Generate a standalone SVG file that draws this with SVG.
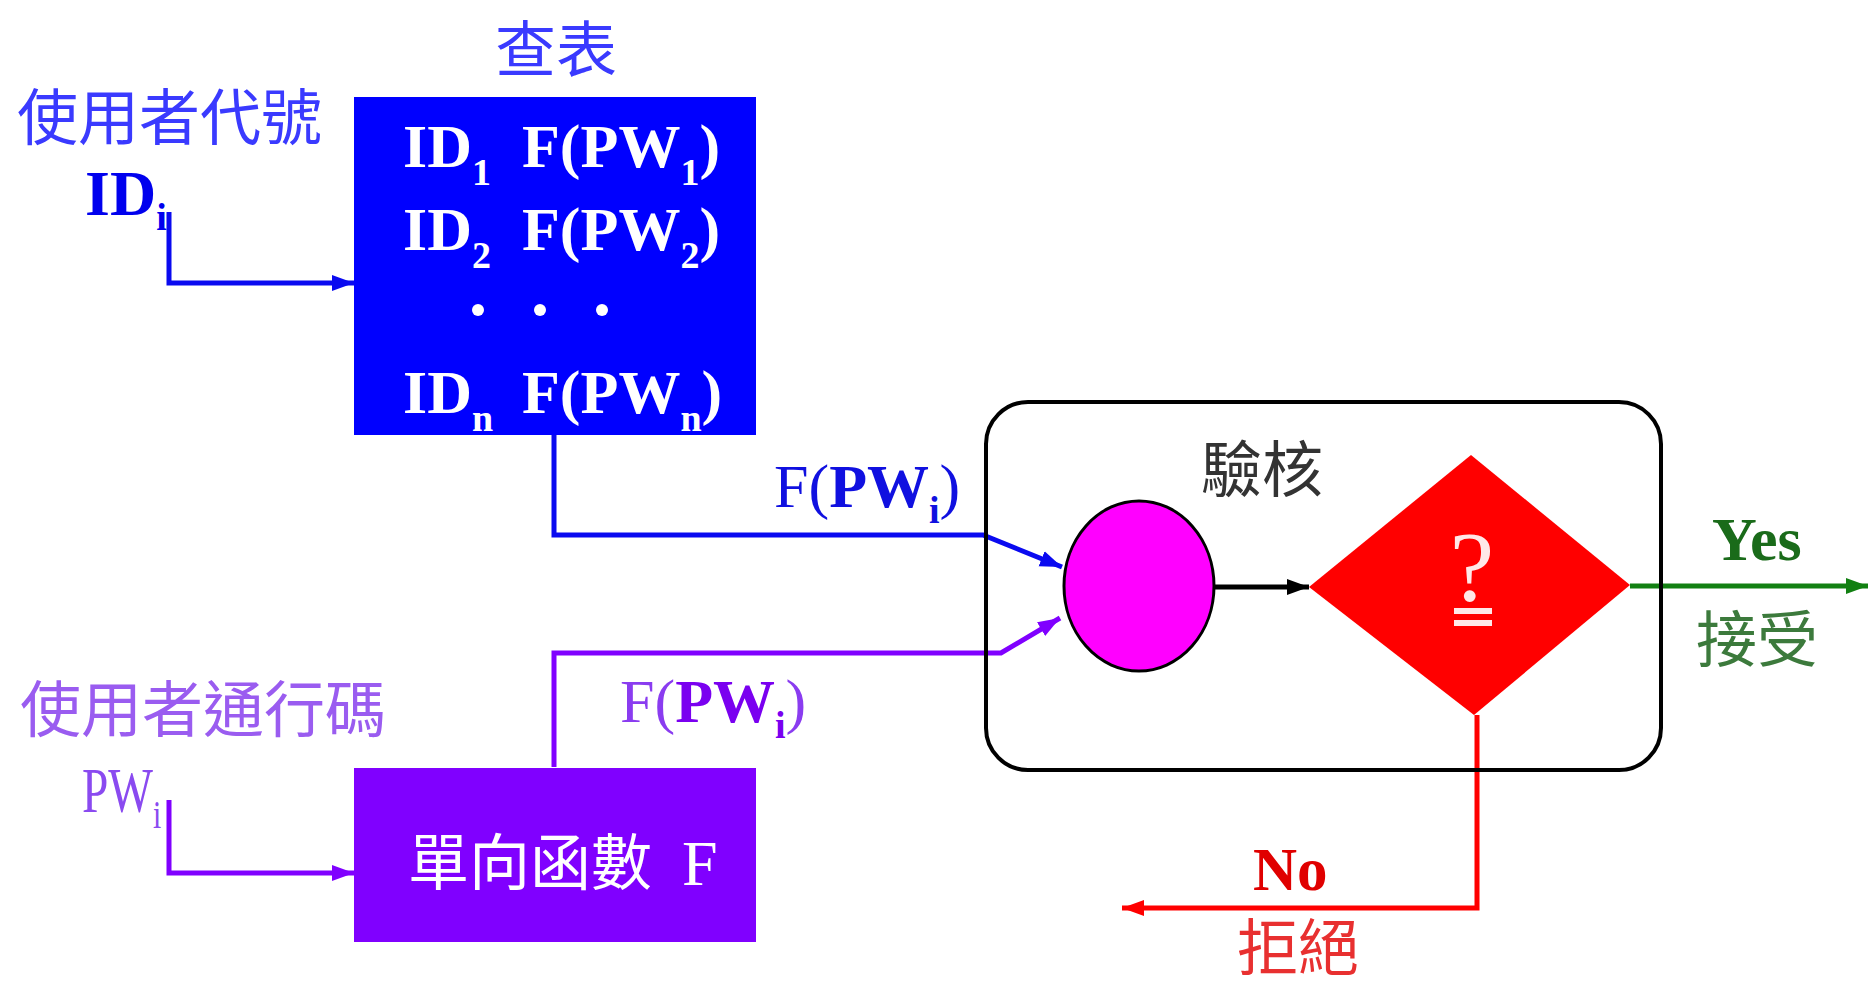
<svg xmlns="http://www.w3.org/2000/svg" width="1870" height="988" viewBox="0 0 1870 988">
<style>
.cjk{font-family:"Noto Sans CJK TC","Noto Sans CJK SC",sans-serif;font-size:61px}
.ser{font-family:"Liberation Serif",serif}
.b{font-weight:bold}
.ln{fill:none;stroke-width:5;stroke-linejoin:miter}
</style>
<defs>
<marker id="aBlue" markerUnits="userSpaceOnUse" markerWidth="24" markerHeight="18" refX="22" refY="9" orient="auto"><path d="M0,1 L22,9 L0,17 z" fill="#0a0af0"/></marker>
<marker id="aPur" markerUnits="userSpaceOnUse" markerWidth="24" markerHeight="18" refX="22" refY="9" orient="auto"><path d="M0,1 L22,9 L0,17 z" fill="#8000ff"/></marker>
<marker id="aBlk" markerUnits="userSpaceOnUse" markerWidth="24" markerHeight="18" refX="22" refY="9" orient="auto"><path d="M0,1 L22,9 L0,17 z" fill="#000"/></marker>
<marker id="aGrn" markerUnits="userSpaceOnUse" markerWidth="24" markerHeight="18" refX="22" refY="9" orient="auto"><path d="M0,1 L22,9 L0,17 z" fill="#128012"/></marker>
<marker id="aRed" markerUnits="userSpaceOnUse" markerWidth="24" markerHeight="18" refX="22" refY="9" orient="auto"><path d="M0,1 L22,9 L0,17 z" fill="#ff0000"/></marker>
</defs>
<rect width="1870" height="988" fill="#fff"/>

<g id="connectors">
<path class="ln" d="M169,212 V283 H354" stroke="#0a0af0" marker-end="url(#aBlue)"/>
<path class="ln" d="M169,800 V873 H354" stroke="#8000ff" marker-end="url(#aPur)"/>
<path class="ln" d="M554,435 V535 H983 L1062,567" stroke="#0a0af0" marker-end="url(#aBlue)"/>
<path class="ln" d="M554,767 V653 H1001 L1060,618" stroke="#8000ff" marker-end="url(#aPur)"/>
<path class="ln" d="M1214,587 H1309" stroke="#000" stroke-width="6" marker-end="url(#aBlk)"/>
<path class="ln" d="M1630,586 H1868" stroke="#128012" marker-end="url(#aGrn)"/>
<path class="ln" d="M1477,715 V908 H1122" stroke="#ff0000" marker-end="url(#aRed)"/>
</g>

<g id="lookup-label">
<text class="cjk" x="495" y="72" fill="#3a3aff" font-size="64">查表</text>
</g>

<g id="userid">
<text class="cjk" x="17" y="140" fill="#3a3aff">使用者代號</text>
<text class="ser b" x="85" y="215" font-size="64" fill="#0000ee">ID<tspan font-size="38" dy="15">i</tspan></text>
</g>

<g id="table">
<rect x="354" y="97" width="402" height="338" fill="#0000ff"/>
<g class="ser b" fill="#fff" font-size="62">
<text x="403" y="167">ID<tspan font-size="38" dy="18">1</tspan></text>
<text x="522" y="167">F(PW<tspan font-size="38" dy="18">1</tspan><tspan dy="-18">)</tspan></text>
<text x="403" y="250">ID<tspan font-size="38" dy="18">2</tspan></text>
<text x="522" y="250">F(PW<tspan font-size="38" dy="18">2</tspan><tspan dy="-18">)</tspan></text>
<text x="403" y="413">ID<tspan font-size="38" dy="18">n</tspan></text>
<text x="522" y="413">F(PW<tspan font-size="38" dy="18">n</tspan><tspan dy="-18">)</tspan></text>
</g>
<circle cx="478" cy="310" r="6" fill="#fff"/>
<circle cx="540" cy="310" r="6" fill="#fff"/>
<circle cx="602" cy="310" r="6" fill="#fff"/>
</g>

<g id="label-blue">
<text class="ser" x="774" y="507" font-size="62" fill="#1010e0">F(<tspan class="b">PW</tspan><tspan class="b" font-size="38" dy="16">i</tspan><tspan dy="-16">)</tspan></text>
</g>

<g id="label-purple">
<text class="ser" x="620" y="722" font-size="62" fill="#8a3cf0">F(<tspan class="b" fill="#7a00f0">PW</tspan><tspan class="b" fill="#7a00f0" font-size="38" dy="16">i</tspan><tspan dy="-16">)</tspan></text>
</g>

<g id="password">
<text class="cjk" x="20" y="732" fill="#9a5cf0">使用者通行碼</text>
<text class="ser" transform="translate(82,812) scale(0.74,1)" font-size="64" fill="#8a4af0">PW<tspan font-size="40" dy="16">i</tspan></text>
</g>

<g id="oneway">
<rect x="354" y="768" width="402" height="174" fill="#8000ff"/>
<text class="cjk" x="408" y="885" fill="#fff" font-size="60">單向函數<tspan class="ser" x="682" font-size="64">F</tspan></text>
</g>

<g id="verify">
<rect x="986" y="402" width="675" height="368" rx="42" ry="42" fill="none" stroke="#000" stroke-width="4"/>
<text class="cjk" x="1201" y="492" fill="#333">驗核</text>
</g>

<g id="compare">
<ellipse cx="1139" cy="586" rx="75" ry="85" fill="#ff00ff" stroke="#000" stroke-width="3"/>
</g>

<g id="decision">
<polygon points="1309,587 1471,455 1630,585 1474,715" fill="#ff0000"/>
<text class="ser" x="1472" y="600" font-size="100" fill="#ffe8e8" text-anchor="middle">?</text>
<rect x="1454" y="608" width="38" height="6" fill="#ffe8e8"/>
<rect x="1454" y="620" width="38" height="6" fill="#ffe8e8"/>
</g>

<g id="yes">
<text class="ser b" x="1712" y="560" font-size="62" fill="#1a6b1a">Yes</text>
<text class="cjk" x="1696" y="662" fill="#3c7a3c">接受</text>
</g>

<g id="no">
<text class="ser b" x="1253" y="890" font-size="61" fill="#e00000">No</text>
<text class="cjk" x="1237" y="970" fill="#e83030" font-size="57">拒絕</text>
</g>
</svg>
